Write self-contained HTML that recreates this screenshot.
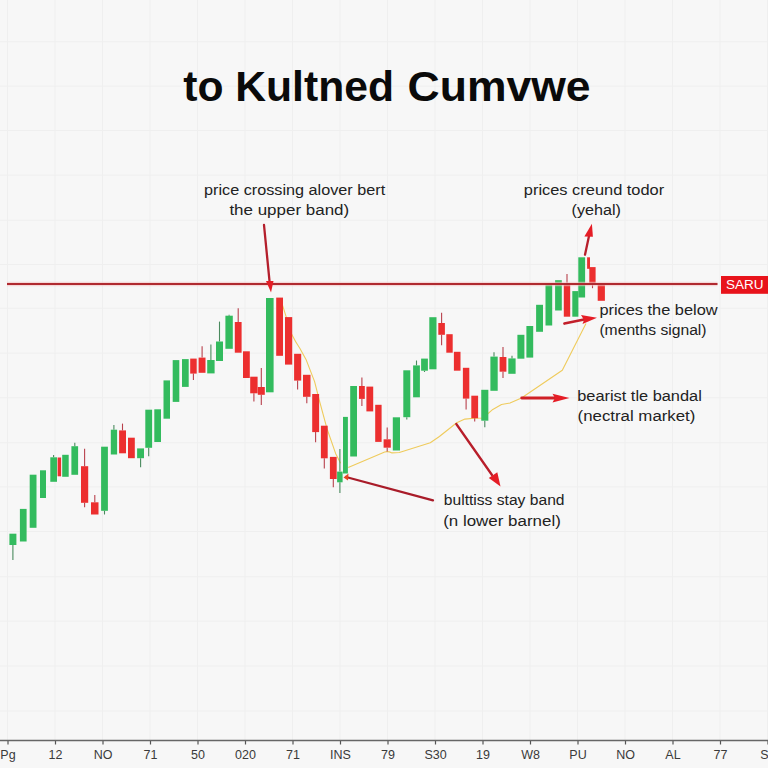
<!DOCTYPE html>
<html><head><meta charset="utf-8">
<style>
html,body{margin:0;padding:0;background:#f7f7f7;}
body{width:768px;height:768px;overflow:hidden;position:relative;font-family:"Liberation Sans",sans-serif;}
svg{position:absolute;left:0;top:0;}
.t{position:absolute;white-space:nowrap;color:#1a1a1a;}
</style></head><body>
<svg width="768" height="768" viewBox="0 0 768 768">
<g stroke="#efefef" stroke-width="1">
<line x1="7.5" y1="0" x2="7.5" y2="740" />
<line x1="55.0" y1="0" x2="55.0" y2="740" />
<line x1="102.5" y1="0" x2="102.5" y2="740" />
<line x1="150.0" y1="0" x2="150.0" y2="740" />
<line x1="197.5" y1="0" x2="197.5" y2="740" />
<line x1="245.0" y1="0" x2="245.0" y2="740" />
<line x1="292.5" y1="0" x2="292.5" y2="740" />
<line x1="340.0" y1="0" x2="340.0" y2="740" />
<line x1="387.5" y1="0" x2="387.5" y2="740" />
<line x1="435.0" y1="0" x2="435.0" y2="740" />
<line x1="482.5" y1="0" x2="482.5" y2="740" />
<line x1="530.0" y1="0" x2="530.0" y2="740" />
<line x1="577.5" y1="0" x2="577.5" y2="740" />
<line x1="625.0" y1="0" x2="625.0" y2="740" />
<line x1="672.5" y1="0" x2="672.5" y2="740" />
<line x1="720.0" y1="0" x2="720.0" y2="740" />
<line x1="767.5" y1="0" x2="767.5" y2="740" />
<line x1="0" y1="41.7" x2="768" y2="41.7" />
<line x1="0" y1="86.2" x2="768" y2="86.2" />
<line x1="0" y1="130.5" x2="768" y2="130.5" />
<line x1="0" y1="175.2" x2="768" y2="175.2" />
<line x1="0" y1="220.3" x2="768" y2="220.3" />
<line x1="0" y1="264.5" x2="768" y2="264.5" />
<line x1="0" y1="308.3" x2="768" y2="308.3" />
<line x1="0" y1="353.1" x2="768" y2="353.1" />
<line x1="0" y1="397.7" x2="768" y2="397.7" />
<line x1="0" y1="442.7" x2="768" y2="442.7" />
<line x1="0" y1="486.9" x2="768" y2="486.9" />
<line x1="0" y1="531.5" x2="768" y2="531.5" />
<line x1="0" y1="576.7" x2="768" y2="576.7" />
<line x1="0" y1="621.2" x2="768" y2="621.2" />
<line x1="0" y1="666.0" x2="768" y2="666.0" />
<line x1="0" y1="711.0" x2="768" y2="711.0" />
</g>
<rect x="721" y="276" width="47" height="17.8" fill="#e8131b"/>
<text x="726" y="289.4" font-family="Liberation Sans" font-size="13.2" fill="#fff" textLength="37.5" lengthAdjust="spacingAndGlyphs">SARU</text>
<g fill="none" stroke="#efcb5c" stroke-width="1.1" stroke-linejoin="round">
<path d="M282.4,304.9 L291.8,334.6 Q296,343 299.8,348.2 L306,359.4 L314.6,381.6 L319.6,401.4 L327,428.7 L335.6,453.4 L340.6,463.3"/>
<path d="M348.2,467.4 L384.7,452 Q388,451 392,452.9 L399.3,452.5 L430.3,442.8 L439.4,436.5 L456.7,422.8 L464.9,419.1 L474,418.2 L483,418 L492.8,409.4 L501.5,404.5 L510,403 L521.5,398 L562.3,370.2 L586,323.6"/>
</g>
<g>
<line x1="12.9" y1="545" x2="12.9" y2="560" stroke="#4a8a5e" stroke-width="1.1"/>
<rect x="9.4" y="533.7" width="7.0" height="11.3" fill="#33bb5e"/>
<rect x="19.9" y="508.9" width="6.7" height="32.6" fill="#33bb5e"/>
<rect x="29.7" y="474.7" width="6.8" height="53.1" fill="#33bb5e"/>
<rect x="40" y="470.3" width="6.0" height="27.7" fill="#33bb5e"/>
<line x1="53.6" y1="455" x2="53.6" y2="457.3" stroke="#4a8a5e" stroke-width="1.1"/>
<rect x="50.3" y="457.3" width="6.7" height="24.5" fill="#33bb5e"/>
<rect x="57.6" y="457.5" width="3.5" height="18.8" fill="#ec2f2f"/>
<rect x="62.2" y="454.8" width="6.5" height="22.0" fill="#33bb5e"/>
<line x1="74.8" y1="442.8" x2="74.8" y2="446.2" stroke="#4a8a5e" stroke-width="1.1"/>
<rect x="71.4" y="446.2" width="6.7" height="28.6" fill="#33bb5e"/>
<line x1="84.6" y1="448.8" x2="84.6" y2="466.2" stroke="#b8404c" stroke-width="1.1"/>
<line x1="84.6" y1="502.8" x2="84.6" y2="507.2" stroke="#b8404c" stroke-width="1.1"/>
<rect x="81" y="466.2" width="7.2" height="36.6" fill="#ec2f2f"/>
<line x1="94.8" y1="495" x2="94.8" y2="502.3" stroke="#b8404c" stroke-width="1.1"/>
<rect x="91" y="502.3" width="7.5" height="12.2" fill="#ec2f2f"/>
<line x1="104.5" y1="510.8" x2="104.5" y2="514.5" stroke="#4a8a5e" stroke-width="1.1"/>
<rect x="101.1" y="446.7" width="6.8" height="64.1" fill="#33bb5e"/>
<line x1="113.9" y1="425" x2="113.9" y2="429.7" stroke="#4a8a5e" stroke-width="1.1"/>
<rect x="110.8" y="429.7" width="6.3" height="24.8" fill="#33bb5e"/>
<line x1="122.5" y1="423.6" x2="122.5" y2="430.4" stroke="#b8404c" stroke-width="1.1"/>
<rect x="119.1" y="430.4" width="6.9" height="22.9" fill="#ec2f2f"/>
<rect x="128" y="437.7" width="6.8" height="20.5" fill="#ec2f2f"/>
<line x1="140.6" y1="458.2" x2="140.6" y2="467.3" stroke="#4a8a5e" stroke-width="1.1"/>
<rect x="137.1" y="448.4" width="6.9" height="9.8" fill="#33bb5e"/>
<line x1="148.7" y1="447.8" x2="148.7" y2="456.2" stroke="#4a8a5e" stroke-width="1.1"/>
<rect x="145.3" y="409.7" width="6.8" height="38.1" fill="#33bb5e"/>
<rect x="154.3" y="409.3" width="6.7" height="32.7" fill="#33bb5e"/>
<rect x="163.5" y="380.4" width="6.5" height="38.3" fill="#33bb5e"/>
<rect x="172.7" y="360.1" width="6.6" height="41.8" fill="#33bb5e"/>
<rect x="182" y="359.1" width="6.7" height="27.8" fill="#33bb5e"/>
<line x1="193.4" y1="373.6" x2="193.4" y2="380" stroke="#b8404c" stroke-width="1.1"/>
<rect x="190.2" y="358.6" width="6.5" height="15.0" fill="#ec2f2f"/>
<line x1="202.1" y1="346.3" x2="202.1" y2="357.6" stroke="#b8404c" stroke-width="1.1"/>
<rect x="198.6" y="357.6" width="6.9" height="15.2" fill="#ec2f2f"/>
<line x1="210.9" y1="344.5" x2="210.9" y2="360" stroke="#4a8a5e" stroke-width="1.1"/>
<rect x="207.2" y="360" width="7.4" height="13.4" fill="#33bb5e"/>
<line x1="219.5" y1="321.6" x2="219.5" y2="341.5" stroke="#4a8a5e" stroke-width="1.1"/>
<rect x="216" y="341.5" width="7.0" height="19.5" fill="#33bb5e"/>
<line x1="229.1" y1="314.8" x2="229.1" y2="315.7" stroke="#4a8a5e" stroke-width="1.1"/>
<rect x="225.4" y="315.7" width="7.4" height="33.1" fill="#33bb5e"/>
<line x1="238.2" y1="308.3" x2="238.2" y2="322" stroke="#b8404c" stroke-width="1.1"/>
<rect x="234.8" y="322" width="6.8" height="30.7" fill="#ec2f2f"/>
<rect x="243" y="351.3" width="6.8" height="26.7" fill="#ec2f2f"/>
<line x1="253.9" y1="393.3" x2="253.9" y2="401.5" stroke="#b8404c" stroke-width="1.1"/>
<rect x="250.2" y="376.7" width="7.4" height="16.6" fill="#ec2f2f"/>
<line x1="261.3" y1="367.9" x2="261.3" y2="387" stroke="#b8404c" stroke-width="1.1"/>
<line x1="261.3" y1="394.8" x2="261.3" y2="405" stroke="#b8404c" stroke-width="1.1"/>
<rect x="257.8" y="387" width="7.0" height="7.8" fill="#ec2f2f"/>
<rect x="266" y="298" width="7.6" height="94.3" fill="#33bb5e"/>
<rect x="276.2" y="297.6" width="6.8" height="58.2" fill="#ec2f2f"/>
<rect x="285" y="317.1" width="7.2" height="47.5" fill="#ec2f2f"/>
<line x1="297.6" y1="380.6" x2="297.6" y2="389.4" stroke="#b8404c" stroke-width="1.1"/>
<rect x="294.1" y="353.8" width="7.1" height="26.8" fill="#ec2f2f"/>
<line x1="306.8" y1="396.8" x2="306.8" y2="403.2" stroke="#b8404c" stroke-width="1.1"/>
<rect x="303" y="374.8" width="7.5" height="22.0" fill="#ec2f2f"/>
<line x1="315.6" y1="432.1" x2="315.6" y2="442.3" stroke="#b8404c" stroke-width="1.1"/>
<rect x="312.2" y="394" width="6.9" height="38.1" fill="#ec2f2f"/>
<line x1="324.3" y1="458.3" x2="324.3" y2="468.6" stroke="#b8404c" stroke-width="1.1"/>
<rect x="320.9" y="425.7" width="6.8" height="32.6" fill="#ec2f2f"/>
<line x1="333.3" y1="479" x2="333.3" y2="487.2" stroke="#b8404c" stroke-width="1.1"/>
<rect x="329.9" y="456.9" width="6.8" height="22.1" fill="#ec2f2f"/>
<line x1="339.9" y1="449" x2="339.9" y2="471.6" stroke="#4a8a5e" stroke-width="1.1"/>
<line x1="339.9" y1="482.3" x2="339.9" y2="493" stroke="#4a8a5e" stroke-width="1.1"/>
<rect x="337.1" y="471.6" width="5.5" height="10.7" fill="#33bb5e"/>
<rect x="343" y="416.9" width="4.9" height="56.6" fill="#33bb5e"/>
<rect x="350.2" y="386" width="6.8" height="70.5" fill="#33bb5e"/>
<line x1="361.9" y1="377.4" x2="361.9" y2="386" stroke="#b8404c" stroke-width="1.1"/>
<line x1="361.9" y1="398.9" x2="361.9" y2="406.1" stroke="#b8404c" stroke-width="1.1"/>
<rect x="359" y="386" width="5.8" height="12.9" fill="#ec2f2f"/>
<rect x="366.4" y="386.6" width="6.8" height="24.8" fill="#ec2f2f"/>
<rect x="375.2" y="404.8" width="6.4" height="37.1" fill="#ec2f2f"/>
<line x1="387.2" y1="427.6" x2="387.2" y2="439.3" stroke="#b8404c" stroke-width="1.1"/>
<line x1="387.2" y1="447.7" x2="387.2" y2="451.6" stroke="#b8404c" stroke-width="1.1"/>
<rect x="383.6" y="439.3" width="7.2" height="8.4" fill="#ec2f2f"/>
<rect x="392.8" y="417.3" width="7.2" height="33.2" fill="#33bb5e"/>
<line x1="406.8" y1="417.2" x2="406.8" y2="419.6" stroke="#4a8a5e" stroke-width="1.1"/>
<rect x="403.3" y="370.3" width="7.0" height="46.9" fill="#33bb5e"/>
<line x1="416.5" y1="360.5" x2="416.5" y2="365.4" stroke="#4a8a5e" stroke-width="1.1"/>
<rect x="413.1" y="365.4" width="6.8" height="31.9" fill="#33bb5e"/>
<line x1="424.5" y1="370.7" x2="424.5" y2="372" stroke="#4a8a5e" stroke-width="1.1"/>
<rect x="421.1" y="358.6" width="6.8" height="12.1" fill="#33bb5e"/>
<rect x="429.3" y="317.2" width="7.2" height="52.1" fill="#33bb5e"/>
<line x1="441.6" y1="312.7" x2="441.6" y2="323" stroke="#b8404c" stroke-width="1.1"/>
<line x1="441.6" y1="334.8" x2="441.6" y2="345.3" stroke="#b8404c" stroke-width="1.1"/>
<rect x="438.3" y="323" width="6.6" height="11.8" fill="#ec2f2f"/>
<rect x="446.3" y="334.2" width="6.4" height="18.5" fill="#ec2f2f"/>
<rect x="453.9" y="351.8" width="6.6" height="18.9" fill="#ec2f2f"/>
<line x1="466.1" y1="398.6" x2="466.1" y2="409.4" stroke="#b8404c" stroke-width="1.1"/>
<rect x="462.9" y="367.8" width="6.4" height="30.8" fill="#ec2f2f"/>
<line x1="474.7" y1="418.2" x2="474.7" y2="421.5" stroke="#b8404c" stroke-width="1.1"/>
<rect x="471.3" y="395.7" width="6.8" height="22.5" fill="#ec2f2f"/>
<line x1="484.8" y1="420.7" x2="484.8" y2="427.3" stroke="#4a8a5e" stroke-width="1.1"/>
<rect x="481.25" y="389.8" width="7.1" height="30.9" fill="#33bb5e"/>
<line x1="494.0" y1="352.3" x2="494.0" y2="356.6" stroke="#4a8a5e" stroke-width="1.1"/>
<rect x="490.4" y="356.6" width="7.3" height="34.2" fill="#33bb5e"/>
<line x1="503.0" y1="346.9" x2="503.0" y2="357" stroke="#b8404c" stroke-width="1.1"/>
<line x1="503.0" y1="371.7" x2="503.0" y2="378.1" stroke="#b8404c" stroke-width="1.1"/>
<rect x="499.6" y="357" width="6.8" height="14.7" fill="#ec2f2f"/>
<line x1="512.0" y1="355.7" x2="512.0" y2="358.4" stroke="#4a8a5e" stroke-width="1.1"/>
<rect x="508.3" y="358.4" width="7.3" height="15.4" fill="#33bb5e"/>
<rect x="517.4" y="334.8" width="7.0" height="23.9" fill="#33bb5e"/>
<rect x="526.4" y="326" width="6.8" height="31.6" fill="#33bb5e"/>
<rect x="536.1" y="304.8" width="6.9" height="27.0" fill="#33bb5e"/>
<rect x="545.5" y="285" width="6.7" height="40.5" fill="#33bb5e"/>
<rect x="555.1" y="280.2" width="6.7" height="30.3" fill="#33bb5e"/>
<line x1="567.0" y1="274" x2="567.0" y2="283" stroke="#b8404c" stroke-width="1.1"/>
<rect x="563.8" y="283" width="6.4" height="33.7" fill="#ec2f2f"/>
<rect x="572.3" y="291.1" width="6.1" height="25.6" fill="#33bb5e"/>
<rect x="578.3" y="257.3" width="6.8" height="40.2" fill="#33bb5e"/>
<rect x="587.1" y="257.3" width="2.9" height="11.5" fill="#ec2f2f"/>
<line x1="592.5" y1="284.6" x2="592.5" y2="288.2" stroke="#b8404c" stroke-width="1.1"/>
<rect x="589.3" y="267.1" width="6.3" height="17.5" fill="#ec2f2f"/>
<rect x="597.7" y="283.5" width="7.2" height="17.3" fill="#ec2f2f"/>
</g>
<line x1="7" y1="283.9" x2="717.5" y2="283.9" stroke="#f4c4c4" stroke-width="4.5" opacity="0.6"/>
<line x1="7" y1="283.9" x2="717.5" y2="283.9" stroke="#b02a30" stroke-width="2"/>
<g stroke-width="2.3" fill="none" stroke-linecap="round">
<line x1="264" y1="225" x2="269.6" y2="282" stroke="#b41f2c"/>
<line x1="585" y1="254.7" x2="589" y2="236" stroke="#b81f2c"/>
<line x1="346" y1="477" x2="433" y2="500.3" stroke="#a91c29"/>
<line x1="456.3" y1="424" x2="492" y2="475" stroke="#b81e2a"/>
<line x1="521.7" y1="398" x2="556" y2="398" stroke="#cf2026" stroke-width="2.8"/>
<line x1="564.4" y1="323.6" x2="584" y2="319.5" stroke="#c21f2a" stroke-width="2.6"/>
</g>
<g fill="#e51d26">
<polygon points="266,281 273.5,281 271,292.5"/>
<polygon points="584.4,236.6 592.9,236.7 591.9,223.7"/>
<polygon points="488.8,478 497.3,472.3 500.5,486.6"/>
<polygon points="552.5,393.7 555,398 552.5,402.6 569.5,398"/>
<polygon points="581,315 584,320 582.5,324 597,317.8"/>
<polygon points="348.5,473.5 343.5,477.5 348,480.5" fill="#e8461e"/>
</g>
<g font-family="Liberation Sans" font-size="12.5" fill="#3a3a3a">
<line x1="8.0" y1="740" x2="8.0" y2="744.5" stroke="#555" stroke-width="1.2"/>
<text x="8.0" y="759" text-anchor="middle">Pg</text>
<line x1="55.5" y1="740" x2="55.5" y2="744.5" stroke="#555" stroke-width="1.2"/>
<text x="55.5" y="759" text-anchor="middle">12</text>
<line x1="103.0" y1="740" x2="103.0" y2="744.5" stroke="#555" stroke-width="1.2"/>
<text x="103.0" y="759" text-anchor="middle">NO</text>
<line x1="150.5" y1="740" x2="150.5" y2="744.5" stroke="#555" stroke-width="1.2"/>
<text x="150.5" y="759" text-anchor="middle">71</text>
<line x1="198.0" y1="740" x2="198.0" y2="744.5" stroke="#555" stroke-width="1.2"/>
<text x="198.0" y="759" text-anchor="middle">50</text>
<line x1="245.5" y1="740" x2="245.5" y2="744.5" stroke="#555" stroke-width="1.2"/>
<text x="245.5" y="759" text-anchor="middle">020</text>
<line x1="293.0" y1="740" x2="293.0" y2="744.5" stroke="#555" stroke-width="1.2"/>
<text x="293.0" y="759" text-anchor="middle">71</text>
<line x1="340.5" y1="740" x2="340.5" y2="744.5" stroke="#555" stroke-width="1.2"/>
<text x="340.5" y="759" text-anchor="middle">INS</text>
<line x1="388.0" y1="740" x2="388.0" y2="744.5" stroke="#555" stroke-width="1.2"/>
<text x="388.0" y="759" text-anchor="middle">79</text>
<line x1="435.5" y1="740" x2="435.5" y2="744.5" stroke="#555" stroke-width="1.2"/>
<text x="435.5" y="759" text-anchor="middle">S30</text>
<line x1="483.0" y1="740" x2="483.0" y2="744.5" stroke="#555" stroke-width="1.2"/>
<text x="483.0" y="759" text-anchor="middle">19</text>
<line x1="530.5" y1="740" x2="530.5" y2="744.5" stroke="#555" stroke-width="1.2"/>
<text x="530.5" y="759" text-anchor="middle">W8</text>
<line x1="578.0" y1="740" x2="578.0" y2="744.5" stroke="#555" stroke-width="1.2"/>
<text x="578.0" y="759" text-anchor="middle">PU</text>
<line x1="625.5" y1="740" x2="625.5" y2="744.5" stroke="#555" stroke-width="1.2"/>
<text x="625.5" y="759" text-anchor="middle">NO</text>
<line x1="673.0" y1="740" x2="673.0" y2="744.5" stroke="#555" stroke-width="1.2"/>
<text x="673.0" y="759" text-anchor="middle">AL</text>
<line x1="720.5" y1="740" x2="720.5" y2="744.5" stroke="#555" stroke-width="1.2"/>
<text x="720.5" y="759" text-anchor="middle">77</text>
<line x1="768.0" y1="740" x2="768.0" y2="744.5" stroke="#555" stroke-width="1.2"/>
<text x="768.0" y="759" text-anchor="middle">S0</text>
</g>
<line x1="0" y1="740.5" x2="768" y2="740.5" stroke="#666" stroke-width="1.5"/>
<text id="t1" x="183.20" y="100.9" font-family="Liberation Sans" font-size="42.4" font-weight="bold" fill="#0a0a0a" textLength="210.80" lengthAdjust="spacingAndGlyphs">to Kultned</text>
<text id="t2" x="407.55" y="100.9" font-family="Liberation Sans" font-size="42.4" font-weight="bold" fill="#0a0a0a" textLength="183.05" lengthAdjust="spacingAndGlyphs">Cumvwe</text>
<text id="a1" x="204.00" y="194.8" font-family="Liberation Sans" font-size="15.5" font-weight="normal" fill="#222" textLength="181.20" lengthAdjust="spacingAndGlyphs">price crossing alover bert</text>
<text id="a2" x="229.40" y="215.1" font-family="Liberation Sans" font-size="15.5" font-weight="normal" fill="#222" textLength="119.80" lengthAdjust="spacingAndGlyphs">the upper band)</text>
<text id="b1" x="523.80" y="194.8" font-family="Liberation Sans" font-size="15.5" font-weight="normal" fill="#222" textLength="140.40" lengthAdjust="spacingAndGlyphs">prices creund todor</text>
<text id="b2" x="571.60" y="215" font-family="Liberation Sans" font-size="15.5" font-weight="normal" fill="#222" textLength="49.40" lengthAdjust="spacingAndGlyphs">(yehal)</text>
<text id="c1" x="599.40" y="314.8" font-family="Liberation Sans" font-size="15.5" font-weight="normal" fill="#222" textLength="118.20" lengthAdjust="spacingAndGlyphs">prices the below</text>
<text id="c2" x="599.40" y="335.1" font-family="Liberation Sans" font-size="15.5" font-weight="normal" fill="#222" textLength="107.20" lengthAdjust="spacingAndGlyphs">(menths signal)</text>
<text id="d1" x="577.20" y="400.8" font-family="Liberation Sans" font-size="15.5" font-weight="normal" fill="#222" textLength="124.60" lengthAdjust="spacingAndGlyphs">bearist tle bandal</text>
<text id="d2" x="577.60" y="421.1" font-family="Liberation Sans" font-size="15.5" font-weight="normal" fill="#222" textLength="117.80" lengthAdjust="spacingAndGlyphs">(nectral market)</text>
<text id="e1" x="443.80" y="505.3" font-family="Liberation Sans" font-size="15.5" font-weight="normal" fill="#222" textLength="120.75" lengthAdjust="spacingAndGlyphs">bulttiss stay band</text>
<text id="e2" x="443.20" y="525.6" font-family="Liberation Sans" font-size="15.5" font-weight="normal" fill="#222" textLength="117.60" lengthAdjust="spacingAndGlyphs">(n lower barnel)</text>
</svg>
</body></html>
